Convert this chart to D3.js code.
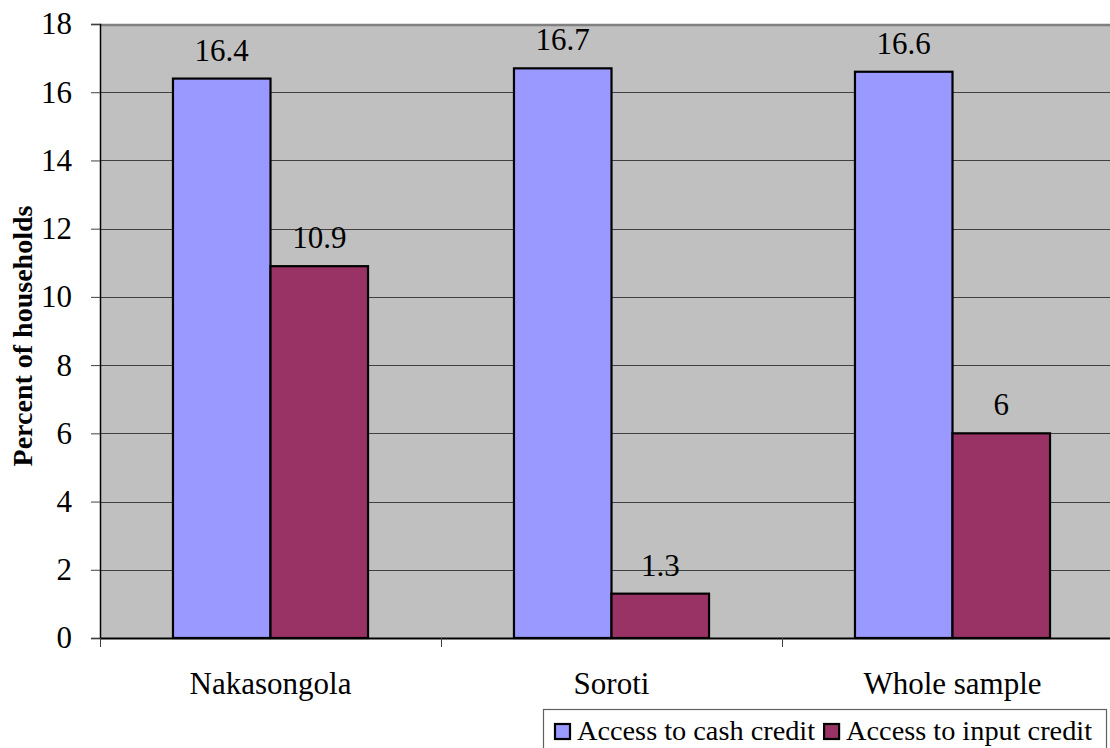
<!DOCTYPE html>
<html>
<head>
<meta charset="utf-8">
<script src="https://cdn.jsdelivr.net/npm/d3@7"></script>
<style>
  body { margin: 0; background: #fff; }
  svg text { font-family: "Times New Roman", "Liberation Serif", Times, "DejaVu Serif", serif; }
</style>
</head>
<body>
<svg id="chart" width="1110" height="748"></svg>
<script>
// Share of households with access to credit, by district
const categories = ["Nakasongola", "Soroti", "Whole sample"];
const seriesNames = ["Access to cash credit", "Access to input credit"];
const cashCredit = [16.4, 16.7, 16.6];
const inputCredit = [10.9, 1.3, 6];
const yTicks = [0, 2, 4, 6, 8, 10, 12, 14, 16, 18];
const seriesColors = ["#9999FF", "#993366"];

const serif = "'Times New Roman', 'Liberation Serif', Times, 'DejaVu Serif', serif";
const labelSize = 31;

const seriesValues = [cashCredit, inputCredit];
const rows = categories.map((c, i) => ({
  category: c,
  values: seriesNames.map((s, j) => ({ series: s, value: seriesValues[j][i], color: seriesColors[j] }))
}));

const svg = d3.select("#chart");
const plot = { left: 100, top: 24, right: 1123, bottom: 638 };

const x0 = d3.scaleBand().domain(categories).range([plot.left, plot.right]).padding(0);
const groupInset = x0.bandwidth() * 0.214;
const x1 = d3.scaleBand().domain(seriesNames)
  .range([groupInset, x0.bandwidth() - groupInset]).padding(0);
const y = d3.scaleLinear().domain([0, 18]).range([plot.bottom, plot.top]);

// plot background
svg.append("rect")
  .attr("x", plot.left).attr("y", plot.top)
  .attr("width", plot.right - plot.left).attr("height", plot.bottom - plot.top)
  .attr("fill", "#C0C0C0");

// horizontal gridlines
svg.append("g").selectAll("line")
  .data(yTicks.filter(t => t > 0 && t < 18))
  .join("line")
  .attr("x1", plot.left).attr("x2", plot.right)
  .attr("y1", d => Math.round(y(d)) + 0.5).attr("y2", d => Math.round(y(d)) + 0.5)
  .attr("stroke", "#404040").attr("stroke-width", 1);

// top border of plot area
svg.append("line")
  .attr("x1", plot.left).attr("x2", plot.right)
  .attr("y1", plot.top + 1).attr("y2", plot.top + 1)
  .attr("stroke", "#808080").attr("stroke-width", 2.5);

// bars
const groups = svg.append("g").selectAll("g")
  .data(rows).join("g")
  .attr("transform", d => `translate(${x0(d.category)},0)`);

groups.selectAll("rect")
  .data(d => d.values).join("rect")
  .attr("x", d => x1(d.series))
  .attr("y", d => y(d.value))
  .attr("width", x1.bandwidth())
  .attr("height", d => y(0) - y(d.value))
  .attr("fill", d => d.color)
  .attr("stroke", "#000").attr("stroke-width", 2.2);

// value labels
groups.selectAll("text")
  .data(d => d.values).join("text")
  .attr("x", d => x1(d.series) + x1.bandwidth() / 2)
  .attr("y", d => y(d.value) - 18)
  .attr("text-anchor", "middle")
  .attr("font-size", labelSize)
  .attr("fill", "#000")
  .text(d => d.value);

// y axis
const yAxis = d3.axisLeft(y).tickValues(yTicks).tickSize(9).tickPadding(19).tickFormat(d3.format("d"));
const yg = svg.append("g").attr("transform", `translate(${plot.left},0)`).call(yAxis);
yg.attr("font-family", null).attr("font-size", null);
yg.select(".domain").attr("stroke", "#000").attr("stroke-width", 1.5);
yg.selectAll(".tick line").attr("stroke", "#404040");
yg.selectAll(".tick text").attr("font-size", labelSize).attr("fill", "#000");

// x axis baseline
svg.append("line")
  .attr("x1", plot.left).attr("x2", plot.right)
  .attr("y1", plot.bottom + 0.5).attr("y2", plot.bottom + 0.5)
  .attr("stroke", "#000").attr("stroke-width", 1.8);
// category boundary ticks
svg.append("g").selectAll("line")
  .data(categories.map(c => x0(c))).join("line")
  .attr("x1", d => Math.round(d) + 0.5).attr("x2", d => Math.round(d) + 0.5)
  .attr("y1", plot.bottom).attr("y2", plot.bottom + 9)
  .attr("stroke", "#404040");

// category labels
svg.append("g").selectAll("text")
  .data(categories).join("text")
  .attr("x", d => x0(d) + x0.bandwidth() / 2)
  .attr("y", 694)
  .attr("text-anchor", "middle")
  .attr("font-size", labelSize)
  .text(d => d);

// y axis title
svg.append("text")
  .attr("transform", "translate(32,336) rotate(-90)")
  .attr("text-anchor", "middle")
  .attr("font-size", 28)
  .attr("font-weight", "bold")
  .text("Percent of households");

// legend
const legend = svg.append("g");
legend.append("rect")
  .attr("x", 543.5).attr("y", 709.5)
  .attr("width", 563).attr("height", 50)
  .attr("fill", "#fff").attr("stroke", "#606060").attr("stroke-width", 1.2);

let lx = 555;
seriesNames.forEach((s, i) => {
  legend.append("rect")
    .attr("x", lx).attr("y", 724)
    .attr("width", 15).attr("height", 15)
    .attr("fill", seriesColors[i]).attr("stroke", "#000").attr("stroke-width", 2.2);
  const t = legend.append("text")
    .attr("x", lx + 22).attr("y", 740)
    .attr("font-size", 28.3)
    .attr("font-family", serif)
    .text(s);
  lx += 22 + t.node().getComputedTextLength() + 9;
});

svg.selectAll("text").attr("font-family", serif);
</script>
</body>
</html>
